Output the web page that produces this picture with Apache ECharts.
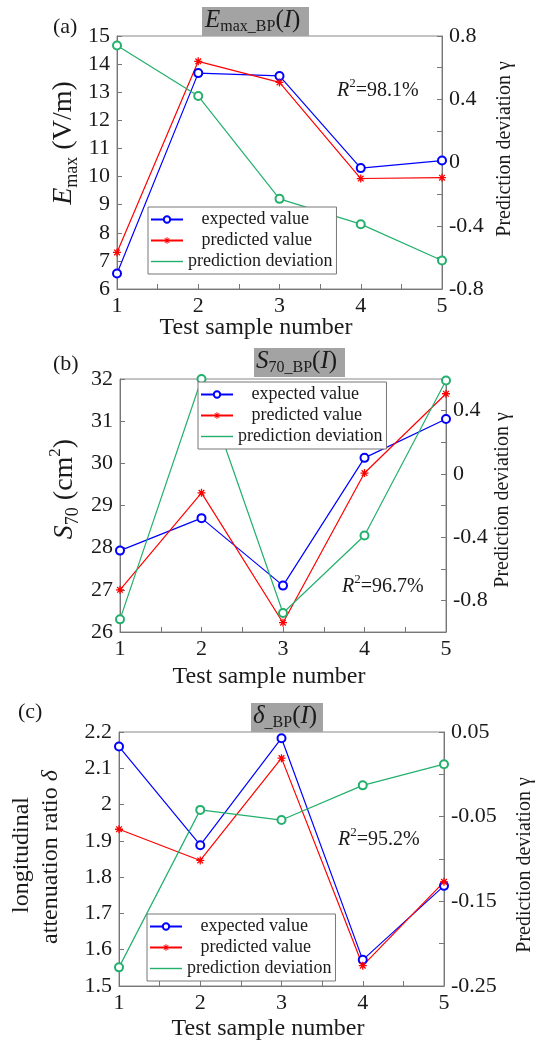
<!DOCTYPE html>
<html>
<head>
<meta charset="utf-8">
<script src="https://cdn.jsdelivr.net/npm/echarts@6/dist/echarts.min.js"></script>
<style>
  html, body { margin: 0; padding: 0; background: #fff; }
  #main { width: 535px; height: 1043px; }
</style>
</head>
<body>
<div id="main"></div>
<script>
// sample numbers on the x axis
const samples = [1, 2, 3, 4, 5]

// (a) E_max
const aExpected = [6.55, 13.68, 13.58, 10.3, 10.57]
const aPredicted = [7.3, 14.1, 13.35, 9.93, 9.96]
const aDeviation = [0.74, 0.42, -0.23, -0.39, -0.62]
// (b) S70
const bExpected = [27.93, 28.7, 27.1, 30.13, 31.05]
const bPredicted = [27.0, 29.3, 26.22, 29.77, 31.65]
const bDeviation = [-0.92, 0.6, -0.88, -0.39, 0.59]
// (c) delta
const cExpected = [2.16, 1.888, 2.183, 1.572, 1.776]
const cPredicted = [1.932, 1.846, 2.128, 1.556, 1.787]
const cDeviation = [-0.228, -0.042, -0.054, -0.013, 0.012]

// right axis labels that are printed (other ticks stay blank)
const aRightLabels = ['0.8', '0.4', '0', '-0.4', '-0.8']
const bRightLabels = ['0.4', '0', '-0.4', '-0.8']
const cRightLabels = ['0.05', '-0.05', '-0.15', '-0.25']

const names = ['expected value', 'predicted value', 'prediction deviation']

const SERIF = '"Liberation Serif", "Times New Roman", serif'
const INK = '#1a1a1a'
const AXIS = '#777'
const BLUE = '#0000ff'
const RED = '#ff0000'
const GREEN = '#22b06c'
const STAR = 'path://M-5,-0.8L5,-0.8L5,0.8L-5,0.8Z M0.8,-5L0.8,5L-0.8,5L-0.8,-5Z M-2.970,-4.101L4.101,2.970L2.970,4.101L-4.101,-2.970Z M4.101,-2.970L-2.970,4.101L-4.101,2.970L2.970,-4.101Z'

const grids = [
  { left: 117, top: 36, width: 325, height: 253 },
  { left: 120, top: 379, width: 326, height: 253 },
  { left: 119, top: 732, width: 325, height: 254 }
]

// text rows with sub/superscripts, built from pieces
const ctx = document.createElement('canvas').getContext('2d')
function fnt(p) {
  return (p.it ? 'italic ' : '') + p.s + 'px ' + SERIF
}
function row(parts, x, y, rot, align) {
  let w = 0
  const ws = parts.map(p => {
    ctx.font = fnt(p)
    const m = ctx.measureText(p.t).width
    w += m
    return m
  })
  let cx = align === 'center' ? -w / 2 : 0
  const children = parts.map((p, i) => {
    const el = {
      type: 'text',
      x: cx,
      y: p.dy || 0,
      z: 20,
      style: { text: p.t, font: fnt(p), fill: INK, textVerticalAlign: 'middle', verticalAlign: 'middle' }
    }
    cx += ws[i]
    return el
  })
  return { type: 'group', x: x, y: y, rotation: rot || 0, z: 20, children: children }
}

const fmt1 = v => String(Math.round(v * 10) / 10)
const fmt2 = v => (Math.round(v * 100) / 100).toFixed(2)

function leftAxis(i, min, max, interval, formatter) {
  return {
    type: 'value', gridIndex: i, position: 'left', min: min, max: max, interval: interval,
    axisLine: { show: true, onZero: false, lineStyle: { color: AXIS, width: 1 } },
    axisTick: { show: true, inside: true, length: 5, lineStyle: { color: AXIS } },
    splitLine: { show: false },
    axisLabel: { color: INK, fontFamily: SERIF, fontSize: 22, margin: 7, formatter: formatter }
  }
}
function rightAxis(i, min, max, interval, labels, f) {
  return {
    type: 'value', gridIndex: i, position: 'right', min: min, max: max, interval: interval,
    axisLine: { show: true, onZero: false, lineStyle: { color: AXIS, width: 1 } },
    axisTick: { show: true, inside: true, length: 5, lineStyle: { color: AXIS } },
    splitLine: { show: false },
    axisLabel: {
      color: INK, fontFamily: SERIF, fontSize: 22, margin: 7,
      formatter: v => (labels.indexOf(f(v)) >= 0 ? f(v) : '')
    }
  }
}
function xAxis(i) {
  return {
    type: 'value', gridIndex: i, position: 'bottom', min: 1, max: 5, interval: 1,
    axisLine: { show: true, onZero: false, lineStyle: { color: AXIS, width: 1 } },
    axisTick: { show: true, inside: true, length: 5, lineStyle: { color: AXIS } },
    minorTick: { show: true, splitNumber: 2, length: 5, lineStyle: { color: AXIS } },
    splitLine: { show: false },
    axisLabel: { color: INK, fontFamily: SERIF, fontSize: 22, margin: 6 }
  }
}

function seriesFor(i, exp, pred, dev) {
  const pts = arr => samples.map((s, k) => [s, arr[k]])
  return [
    {
      name: names[0], type: 'line', xAxisIndex: i, yAxisIndex: 2 * i, data: pts(exp),
      symbol: 'emptyCircle', symbolSize: 8,
      lineStyle: { color: BLUE, width: 1.2 }, itemStyle: { color: BLUE, borderWidth: 1.2 }
    },
    {
      name: names[1], type: 'line', xAxisIndex: i, yAxisIndex: 2 * i, data: pts(pred),
      symbol: STAR, symbolSize: 8,
      lineStyle: { color: RED, width: 1.2 }, itemStyle: { color: RED }
    },
    {
      name: names[2], type: 'line', xAxisIndex: i, yAxisIndex: 2 * i + 1, data: pts(dev),
      symbol: 'emptyCircle', symbolSize: 8,
      lineStyle: { color: GREEN, width: 1.2 }, itemStyle: { color: GREEN, borderWidth: 1.2 }
    }
  ]
}

function legendAt(left, top) {
  return {
    left: left, top: top, orient: 'vertical', selectedMode: false,
    backgroundColor: '#fff', borderColor: AXIS, borderWidth: 1, borderRadius: 0,
    padding: [3, 4, 3, 2], itemGap: 2, itemWidth: 32, itemHeight: 8,
    textStyle: { color: INK, fontFamily: SERIF, fontSize: 18, lineHeight: 19 },
    formatter: name => (name === names[2] ? name : '   ' + name),
    data: [
      { name: names[0] },
      { name: names[1] },
      { name: names[2], icon: 'path://M0,0L32,0L32,1.4L0,1.4Z' }
    ]
  }
}

const PI2 = Math.PI / 2
const graphics = [
  // title boxes
  { type: 'rect', shape: { x: 202, y: 7, width: 107, height: 29 }, style: { fill: '#a3a3a3' }, z: 1 },
  { type: 'rect', shape: { x: 254, y: 348, width: 91, height: 29 }, style: { fill: '#a3a3a3' }, z: 1 },
  { type: 'rect', shape: { x: 251, y: 703, width: 72, height: 29 }, style: { fill: '#a3a3a3' }, z: 1 },
  // panel letters
  row([{ t: '(a)', s: 22 }], 53, 27, 0, 'left'),
  row([{ t: '(b)', s: 22 }], 53, 364, 0, 'left'),
  row([{ t: '(c)', s: 22 }], 18, 712, 0, 'left'),
  // titles
  row([{ t: 'E', s: 25, it: 1 }, { t: 'max_BP', s: 16, dy: 7 }, { t: '(', s: 25 }, { t: 'I', s: 25, it: 1 }, { t: ')', s: 25 }], 205, 20, 0, 'left'),
  row([{ t: 'S', s: 25, it: 1 }, { t: '70_BP', s: 16, dy: 7 }, { t: '(', s: 25 }, { t: 'I', s: 25, it: 1 }, { t: ')', s: 25 }], 256, 361, 0, 'left'),
  row([{ t: '\u03b4', s: 25, it: 1 }, { t: '_BP', s: 16, dy: 7 }, { t: '(', s: 25 }, { t: 'I', s: 25, it: 1 }, { t: ')', s: 25 }], 253, 716, 0, 'left'),
  // R squared
  row([{ t: 'R', s: 20, it: 1 }, { t: '2', s: 13, dy: -7 }, { t: '=98.1%', s: 20 }], 337, 91, 0, 'left'),
  row([{ t: 'R', s: 20, it: 1 }, { t: '2', s: 13, dy: -7 }, { t: '=96.7%', s: 20 }], 342, 587, 0, 'left'),
  row([{ t: 'R', s: 20, it: 1 }, { t: '2', s: 13, dy: -7 }, { t: '=95.2%', s: 20 }], 338, 840, 0, 'left'),
  // x axis names
  row([{ t: 'Test sample number', s: 24 }], 256, 328, 0, 'center'),
  row([{ t: 'Test sample number', s: 24 }], 269, 677, 0, 'center'),
  row([{ t: 'Test sample number', s: 24 }], 268, 1029, 0, 'center'),
  // left axis names
  row([{ t: 'E', s: 28, it: 1 }, { t: 'max', s: 18, dy: 8 }, { t: ' (V/m)', s: 28 }], 64, 143, PI2, 'center'),
  row([{ t: 'S', s: 28, it: 1 }, { t: '70', s: 18, dy: 8 }, { t: ' (cm', s: 28 }, { t: '2', s: 17, dy: -9 }, { t: ')', s: 28 }], 65, 489, PI2, 'center'),
  row([{ t: 'longitudinal', s: 24 }], 22, 855, PI2, 'center'),
  row([{ t: 'attenuation ratio ', s: 24 }, { t: '\u03b4', s: 24, it: 1 }], 51, 857, PI2, 'center'),
  // right axis names
  row([{ t: 'Prediction deviation \u03b3', s: 20 }], 505, 149, PI2, 'center'),
  row([{ t: 'Prediction deviation \u03b3', s: 20 }], 503, 500, PI2, 'center'),
  row([{ t: 'Prediction deviation \u03b3', s: 20 }], 525, 865, PI2, 'center')
]

const chart = echarts.init(document.getElementById('main'), null, { renderer: 'canvas' })
chart.setOption({
  backgroundColor: '#fff',
  animation: false,
  grid: grids.map(g => Object.assign({ show: true, borderColor: '#888', borderWidth: 1, backgroundColor: 'transparent' }, g)),
  xAxis: [xAxis(0), xAxis(1), xAxis(2)],
  yAxis: [
    leftAxis(0, 6, 15, 1),
    rightAxis(0, -0.8, 0.8, 0.2, aRightLabels, fmt1),
    leftAxis(1, 26, 32, 1),
    rightAxis(1, -1.0, 0.6, 0.2, bRightLabels, fmt1),
    leftAxis(2, 1.5, 2.2, 0.1, fmt1),
    rightAxis(2, -0.25, 0.05, 0.05, cRightLabels, fmt2)
  ],
  legend: [legendAt(148, 207), legendAt(198, 382), legendAt(147, 914)],
  series: [].concat(
    seriesFor(0, aExpected, aPredicted, aDeviation),
    seriesFor(1, bExpected, bPredicted, bDeviation),
    seriesFor(2, cExpected, cPredicted, cDeviation)
  ),
  graphic: graphics
})
</script>
</body>
</html>
